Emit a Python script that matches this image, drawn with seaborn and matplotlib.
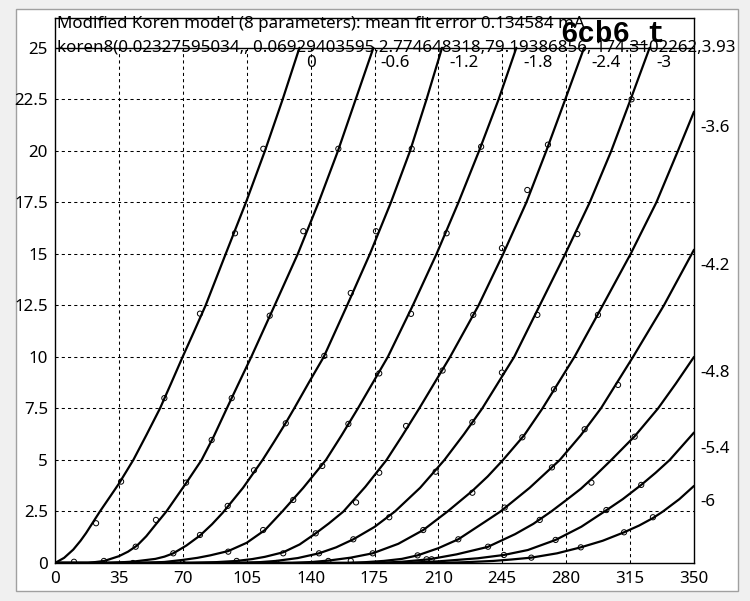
import numpy as np
import pandas as pd
import matplotlib
matplotlib.use("Agg")
import matplotlib.pyplot as plt
import seaborn as sns
from matplotlib.patches import Rectangle

# ---------------- data ----------------
grid_labels = ["0", "-0.6", "-1.2", "-1.8", "-2.4", "-3", "-3.6", "-4.2", "-4.8", "-5.4", "-6"]

va_0 = [0, 5, 10, 14, 17, 24.6, 30, 35, 42.9, 50, 57.5, 63.5, 69.9, 76, 82.5, 88, 93.5, 104.6, 115, 124.7, 133.9]
ia_0 = [0, 0.25, 0.65, 1.08, 1.45, 2.5, 3.2, 3.85, 5, 6.2, 7.5, 8.7, 10, 11.2, 12.5, 13.75, 15, 17.5, 20, 22.5, 25]
va_06 = [0, 18, 27, 35, 40, 45, 50, 55, 61, 66.5, 72, 80.3, 87, 94.1, 100.5, 107.5, 120.3, 133, 144.4, 155, 164.7, 174.4]
ia_06 = [0, 0, 0.1, 0.33, 0.55, 0.85, 1.3, 1.85, 2.5, 3.2, 3.9, 5, 6.15, 7.5, 8.7, 10, 12.5, 15, 17.5, 20, 22.5, 25]
va_12 = [0, 30, 43, 55, 60, 64.8, 72, 79.4, 86, 92, 103, 113.7, 120, 126.4, 131, 139, 147.2, 160, 172.5, 184, 194.5, 203.5, 212]
ia_12 = [0, 0, 0.07, 0.2, 0.31, 0.47, 0.85, 1.33, 1.88, 2.45, 3.65, 5, 5.88, 6.8, 7.5, 8.75, 10, 12.5, 15, 17.5, 20, 22.5, 25]
va_18 = [0, 48, 60, 70, 78, 85, 94.9, 105, 115, 124.5, 136, 148.4, 157, 165.9, 182.3, 196, 209, 221, 232.3, 243, 252.7]
ia_18 = [0, 0, 0.05, 0.15, 0.25, 0.37, 0.58, 0.98, 1.6, 2.5, 3.65, 5, 6.2, 7.5, 10, 12.5, 15, 17.5, 20, 22.5, 25]
va_24 = [0, 75, 88, 99.5, 108, 115, 125, 134, 142.8, 150, 158, 170, 181.6, 190, 199.5, 216.4, 232, 245.5, 258.2, 269.1, 279.5, 289.8]
ia_24 = [0, 0, 0.04, 0.1, 0.19, 0.3, 0.52, 0.9, 1.44, 1.92, 2.5, 3.7, 5, 6.15, 7.5, 10, 12.5, 15, 17.5, 20, 22.5, 25]
va_30 = [0, 100, 112, 121, 133, 144.6, 154, 163.4, 175, 186.2, 200, 213.3, 224, 234, 251.5, 265.5, 279.5, 292.9, 304.7, 315.3, 325.7]
ia_30 = [0, 0, 0.04, 0.1, 0.24, 0.47, 0.76, 1.15, 1.75, 2.5, 3.65, 5, 6.25, 7.5, 10, 12.5, 15, 17.5, 20, 22.5, 25]
va_36 = [0, 130, 141, 150, 162, 174, 188, 201.7, 215, 228.6, 237, 245.4, 257, 267, 284.5, 300, 315.3, 329.4, 341.2, 350]
ia_36 = [0, 0, 0.05, 0.12, 0.26, 0.47, 0.93, 1.6, 2.5, 3.5, 4.2, 5, 6.2, 7.5, 10, 12.5, 15, 17.5, 20, 21.9]
va_42 = [0, 160, 170, 180, 190, 198.6, 210, 220.9, 235.5, 244, 260, 276.5, 288, 299, 316.6, 333.5, 350]
ia_42 = [0, 0, 0.04, 0.1, 0.2, 0.37, 0.72, 1.15, 2.0, 2.5, 3.65, 5, 6.2, 7.5, 10, 12.5, 15.2]
va_48 = [0, 175, 190, 205, 220, 237, 252, 262, 271.8, 280, 288, 296, 304.7, 317.5, 330.3, 340, 350]
ia_48 = [0, 0, 0.06, 0.18, 0.42, 0.78, 1.4, 1.9, 2.5, 3.05, 3.6, 4.25, 5, 6.15, 7.5, 8.7, 10.0]
va_54 = [0, 190, 210, 231.7, 245.9, 259, 274.2, 288.3, 301, 311, 321.1, 329, 336.7, 350]
ia_54 = [0, 0, 0.08, 0.23, 0.39, 0.63, 1.12, 1.76, 2.5, 3.1, 3.79, 4.38, 5, 6.33]
va_60 = [0, 210, 225, 240, 250, 260.9, 275, 288, 300, 311.7, 320, 327.5, 333, 342, 350]
ia_60 = [0, 0, 0.04, 0.1, 0.17, 0.26, 0.47, 0.76, 1.08, 1.49, 1.82, 2.18, 2.5, 3.1, 3.74]

# measured points (small circles)
mva_0 = [10.4, 22.5, 36.2, 59.9, 79.4, 98.6, 114.1]
mia_0 = [0.06, 1.93, 3.95, 8.0, 12.1, 16.0, 20.1]
mva_06 = [26.8, 44.2, 55.3, 71.8, 85.8, 96.8, 117.6, 136, 155.2]
mia_06 = [0.1, 0.79, 2.09, 3.9, 5.97, 8.0, 12.0, 16.1, 20.1]
mva_12 = [42.7, 64.8, 79.4, 94.6, 109, 126.4, 147.5, 162, 175.8, 195.4]
mia_12 = [0.0, 0.47, 1.36, 2.77, 4.5, 6.78, 10.05, 13.1, 16.1, 20.1]
mva_18 = [69.9, 94.9, 114, 130.5, 146.4, 160.7, 177.6, 195, 214.5, 233.4]
mia_18 = [0.0, 0.55, 1.6, 3.06, 4.71, 6.75, 9.2, 12.09, 16.0, 20.2]
mva_24 = [99.5, 125, 142.8, 164.9, 177.6, 192.3, 212.3, 229.1, 244.8, 258.7, 270]
mia_24 = [0.1, 0.47, 1.44, 2.94, 4.38, 6.65, 9.34, 12.04, 15.28, 18.1, 20.3]
mva_30 = [121.4, 144.6, 163.4, 183.1, 208.5, 228.6, 244.8, 264.2, 286.1, 315.8]
mia_30 = [0.0, 0.47, 1.15, 2.22, 4.43, 6.83, 9.24, 12.04, 15.96, 22.5]
mva_36 = [149.7, 174, 201.7, 228.6, 256, 273.3, 297.4]
mia_36 = [0.1, 0.47, 1.6, 3.41, 6.1, 8.43, 12.04]
mva_42 = [162, 198.6, 220.9, 246.3, 272.2, 290.1, 308.4]
mia_42 = [0.1, 0.37, 1.15, 2.69, 4.64, 6.49, 8.64]
mva_48 = [203.5, 237.2, 265.5, 293.8, 317.5]
mia_48 = [0.18, 0.79, 2.09, 3.9, 6.13]
mva_54 = [206.3, 245.9, 274.2, 302, 321.1]
mia_54 = [0.18, 0.39, 1.12, 2.57, 3.79]
mva_60 = [260.9, 288, 311.7, 327.5]
mia_60 = [0.26, 0.76, 1.49, 2.22]

x_ticks = [0, 35, 70, 105, 140, 175, 210, 245, 280, 315, 350]
y_ticks = [0, 2.5, 5, 7.5, 10, 12.5, 15, 17.5, 20, 22.5, 25]
y_tick_labels = ["0", "2.5", "5", "7.5", "10", "12.5", "15", "17.5", "20", "22.5", "25"]

title_line1 = "Modified Koren model (8 parameters): mean fit error 0.134584 mA"
title_line2 = "koren8(0.02327595034,, 0.06929403595,2.774648318,79.19386856, 174.3102262,3.93"
tube_name = "6cb6_t"

curves_va = [va_0, va_06, va_12, va_18, va_24, va_30, va_36, va_42, va_48, va_54, va_60]
curves_ia = [ia_0, ia_06, ia_12, ia_18, ia_24, ia_30, ia_36, ia_42, ia_48, ia_54, ia_60]
marks_va = [mva_0, mva_06, mva_12, mva_18, mva_24, mva_30, mva_36, mva_42, mva_48, mva_54, mva_60]
marks_ia = [mia_0, mia_06, mia_12, mia_18, mia_24, mia_30, mia_36, mia_42, mia_48, mia_54, mia_60]

curve_df = pd.concat(
    [pd.DataFrame({"Va": v, "Ia": i, "grid": g}) for v, i, g in zip(curves_va, curves_ia, grid_labels)],
    ignore_index=True)
mark_df = pd.concat(
    [pd.DataFrame({"Va": v, "Ia": i, "grid": g}) for v, i, g in zip(marks_va, marks_ia, grid_labels)],
    ignore_index=True)

# ---------------- figure ----------------
sns.set_theme(style="white")
FONT = ["Noto Sans", "DejaVu Sans"]
plt.rcParams["font.family"] = FONT
FS = 12.2

W, H = 750, 601
fig = plt.figure(figsize=(W / 100, H / 100), dpi=100, facecolor="#f0f0f0")
fig.patches.append(Rectangle((16 / W, 1 - 591 / H), (738 - 16) / W, (591 - 9) / H,
                             transform=fig.transFigure, facecolor="white",
                             edgecolor="#a0a0a0", lw=1.0, zorder=-5))

ax = fig.add_axes([55 / W, 1 - 563 / H, (694 - 55) / W, (563 - 17.5) / H])
ax.set_facecolor("white")

# grid (dashed, only up to 25) and solid line at 25
ax.vlines(x_ticks[1:-1], 0, y_ticks[-1], colors="black", linewidth=0.75,
          linestyles=(0, (3, 3)), zorder=1)
ax.hlines(y_ticks[1:-1], x_ticks[0], x_ticks[-1], colors="black", linewidth=0.75,
          linestyles=(0, (3, 3)), zorder=1)
ax.hlines([y_ticks[-1]], x_ticks[0], x_ticks[-1], colors="black", linewidth=1.0, zorder=1)

sns.lineplot(data=curve_df, x="Va", y="Ia", units="grid", estimator=None, sort=False,
             color="black", linewidth=1.6, ax=ax, zorder=3)
sns.scatterplot(data=mark_df, x="Va", y="Ia", marker="o", s=14, facecolor="none",
                edgecolor="black", linewidth=0.7, ax=ax, zorder=4)

ax.set_xlim(0, 350)
ax.set_ylim(0, 26.47)
ax.set_xticks(x_ticks)
ax.set_xticklabels([str(t) for t in x_ticks])
ax.set_yticks(y_ticks)
ax.set_yticklabels(y_tick_labels)
ax.tick_params(axis="both", length=0, labelsize=FS, colors="black")
ax.tick_params(axis="y", pad=5)
ax.tick_params(axis="x", pad=6)
ax.set_xlabel("")
ax.set_ylabel("")
for sp in ax.spines.values():
    sp.set_visible(True)
    sp.set_color("black")
    sp.set_linewidth(1.0)

# curve labels
for v, i, g in zip(curves_va, curves_ia, grid_labels):
    if i[-1] >= 25:
        ax.annotate(g, xy=(v[-1], 25), xytext=(7, -7), textcoords="offset pixels",
                    ha="left", va="top", fontsize=FS, color="black")
    else:
        ax.annotate(g, xy=(v[-1], i[-1]), xytext=(6, -16), textcoords="offset pixels",
                    ha="left", va="center", fontsize=FS, color="black",
                    annotation_clip=False)

fig.text(57 / W, 1 - 28.3 / H, title_line1, fontsize=FS, va="baseline", ha="left",
         color="black", zorder=10)
fig.text(57 / W, 1 - 51.7 / H, title_line2, fontsize=FS, va="baseline", ha="left",
         color="black", zorder=10)
fig.text(560 / W, 1 - 42 / H, tube_name, fontsize=21, va="baseline", ha="left",
         family=["Liberation Mono", "DejaVu Sans Mono"], weight="bold", color="black", zorder=11)

fig.savefig("out.png", dpi=100, facecolor=fig.get_facecolor())
